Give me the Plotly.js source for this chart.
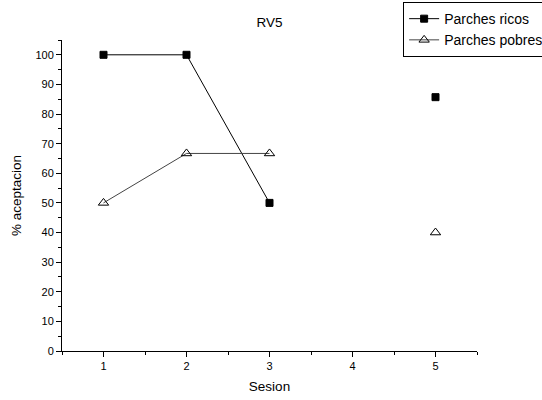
<!DOCTYPE html>
<html><head><meta charset="utf-8">
<script src="https://cdn.plot.ly/plotly-3.0.1.min.js"></script>
<style>html,body{margin:0;padding:0;background:#fff;}#chart{width:542px;height:400px;}</style>
</head><body><div id="chart"></div>
<script>
const sesion = [1, 2, 3, 4, 5];
const ricos = [100, 100, 50, null, 85.7];
const pobres = [50, 66.7, 66.7, null, 40];
const xTicks = [1, 2, 3, 4, 5];
const yTicks = [0, 10, 20, 30, 40, 50, 60, 70, 80, 90, 100];

const traces = [
  {x: sesion, y: ricos, name: 'Parches ricos', type: 'scatter', mode: 'lines+markers',
   connectgaps: false,
   line: {color: '#000', width: 1},
   marker: {symbol: 'square', size: 7, color: '#000', line: {color: '#000', width: 1}}},
  {x: sesion, y: pobres, name: 'Parches pobres', type: 'scatter', mode: 'lines+markers',
   connectgaps: false,
   line: {color: '#444', width: 1},
   marker: {symbol: 'triangle-up-open', size: 9, color: '#000', line: {color: '#000', width: 1}}}
];

const layout = {
  width: 542, height: 400,
  margin: {l: 62, r: 65, t: 40, b: 49, autoexpand: false},
  paper_bgcolor: '#fff', plot_bgcolor: '#fff',
  font: {family: 'Liberation Sans, Arial, sans-serif', size: 11, color: '#000'},
  title: {text: 'RV5', x: 0.5, xref: 'paper', y: 0.945, yanchor: 'middle', font: {size: 13.5}},
  showlegend: true,
  legend: {x: 0.822, y: 1.122, xanchor: 'left', yanchor: 'top', bordercolor: '#000', borderwidth: 1,
           bgcolor: '#fff', font: {size: 14}, tracegroupgap: 0, itemwidth: 30},
  xaxis: {range: [0.5, 5.5], tickvals: xTicks, ticktext: xTicks.map(String),
          showline: true, linecolor: '#000', linewidth: 1, ticks: 'outside', ticklen: 5, tickcolor: '#000',
          minor: {dtick: 0.5, tick0: 0.5, ticks: 'outside', ticklen: 3, tickcolor: '#000'},
          showgrid: false, zeroline: false, mirror: false,
          title: {text: 'Sesion', font: {size: 13.5}, standoff: 10}},
  yaxis: {range: [0, 105], tickvals: yTicks, ticktext: yTicks.map(String),
          showline: true, linecolor: '#000', linewidth: 1, ticks: 'outside', ticklen: 5, tickcolor: '#000',
          minor: {dtick: 5, tick0: 0, ticks: 'outside', ticklen: 3, tickcolor: '#000'},
          showgrid: false, zeroline: false,
          title: {text: '% aceptacion', font: {size: 13.5}, standoff: 10}}
};
Plotly.newPlot('chart', traces, layout, {displayModeBar: false, staticPlot: true});
</script></body></html>
